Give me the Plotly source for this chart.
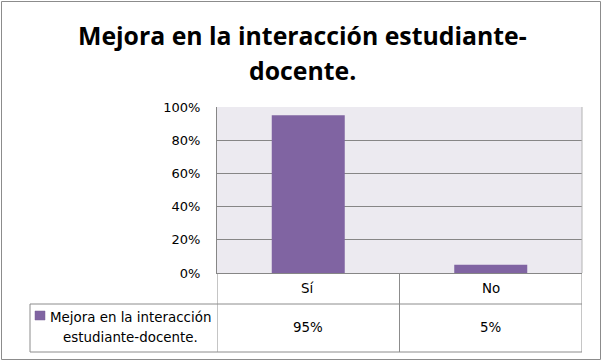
import plotly.graph_objects as go

# ---- data ----
title_lines = ["Mejora en la interacción estudiante-", "docente."]
series_name = "Mejora en la interacción estudiante-docente."
legend_lines = ["Mejora en la interacción", "estudiante-docente."]
categories = ["Sí", "No"]
values = [0.95, 0.05]
value_labels = ["95%", "5%"]

# ---- layout constants (pixels) ----
W, H = 603, 363
L, R, T, B = 217, 582, 107, 273   # plot area box
PW, PH = R - L, B - T

def px(x):
    return (x - L) / PW

def py(y):
    return (B - y) / PH

PURPLE = "#8064A2"
GRID = "#868686"
BORDER = "#8C8C8C"
TXT = "#000000"
FS = 13.4

fig = go.Figure()
fig.add_trace(go.Bar(
    x=categories, y=values, name=series_name,
    marker=dict(color=PURPLE, line=dict(width=0)),
    width=0.4, showlegend=False,
))

shapes = []
# outer chart frame
shapes.append(dict(type="rect", xref="paper", yref="paper",
                   x0=px(1.5), x1=px(600.5), y0=py(359.5), y1=py(1.5),
                   line=dict(color=BORDER, width=1), fillcolor="rgba(0,0,0,0)", layer="above"))
# right edge of plot area (light)
shapes.append(dict(type="line", xref="paper", yref="paper", x0=1, x1=1, y0=0, y1=1,
                   line=dict(color="#B4B4B4", width=1)))
# table: vertical separators at category boundaries
n = len(categories)
for k in range(n + 1):
    shapes.append(dict(type="line", xref="x", yref="paper",
                       x0=k - 0.5, x1=k - 0.5, y0=0, y1=py(352),
                       line=dict(color=BORDER, width=1)))
# legend cell left border
shapes.append(dict(type="line", xref="paper", yref="paper",
                   x0=px(30), x1=px(30), y0=py(304), y1=py(352),
                   line=dict(color=BORDER, width=1)))
# horizontal table lines
for yy in (304, 352):
    shapes.append(dict(type="line", xref="paper", yref="paper",
                       x0=px(30), x1=1, y0=py(yy), y1=py(yy),
                       line=dict(color=BORDER, width=1)))
# legend key
shapes.append(dict(type="rect", xref="paper", yref="paper",
                   x0=px(35), x1=px(45), y0=py(320), y1=py(311),
                   fillcolor=PURPLE, line=dict(color="#7A6296", width=0.5)))

annotations = []
# title
for line, yc in zip(title_lines, (35, 70)):
    annotations.append(dict(text=line, xref="paper", yref="paper",
                            x=px(302), y=py(yc), xanchor="center", yanchor="middle",
                            showarrow=False,
                            font=dict(family="Open Sans", size=24.8, color=TXT, weight="bold")))
# category row and value row
for c, v in zip(categories, value_labels):
    annotations.append(dict(text=c, xref="x", yref="paper", x=c, y=py(288.5),
                            xanchor="center", yanchor="middle", showarrow=False,
                            font=dict(family="DejaVu Sans", size=FS, color=TXT)))
    annotations.append(dict(text=v, xref="x", yref="paper", x=c, y=py(327.5),
                            xanchor="center", yanchor="middle", showarrow=False,
                            font=dict(family="DejaVu Sans", size=FS, color=TXT)))
# legend text
for line, yc in zip(legend_lines, (317.5, 337.5)):
    annotations.append(dict(text=line, xref="paper", yref="paper", x=px(130), y=py(yc),
                            xanchor="center", yanchor="middle", showarrow=False,
                            font=dict(family="DejaVu Sans", size=FS, color=TXT)))

fig.update_layout(
    width=W, height=H,
    margin=dict(l=L, r=W - R, t=T, b=H - B, pad=0),
    paper_bgcolor="white", plot_bgcolor="#ECEAF0",
    shapes=shapes, annotations=annotations,
    xaxis=dict(showticklabels=False, ticks="", showgrid=False, zeroline=False,
               showline=True, linecolor=GRID, linewidth=1, range=[-0.5, n - 0.5]),
    yaxis=dict(range=[0, 1], dtick=0.2, tickformat=".0%", showgrid=True,
               gridcolor=GRID, gridwidth=1, zeroline=False, showline=True,
               linecolor=GRID, linewidth=1, mirror=False, ticks="",
               ticklabelstandoff=13,
               tickfont=dict(family="DejaVu Sans", size=13, color=TXT)),
)

fig.write_html("out.html", config={"displayModeBar": False},
               post_script="document.body.style.margin='0';document.body.style.overflow='hidden';")
